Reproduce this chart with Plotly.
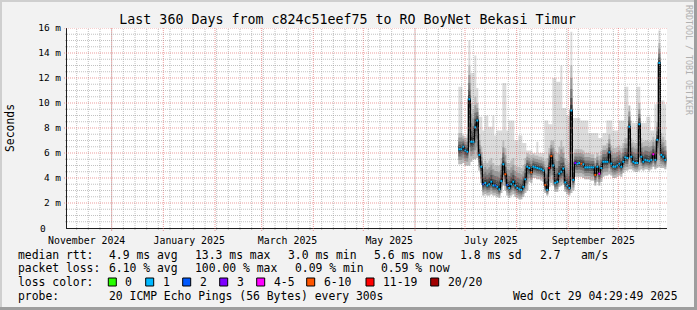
import plotly.graph_objects as go
import pandas as pd

MONO = "DejaVu Sans Mono"

TITLE = "Last 360 Days from c824c51eef75 to RO BoyNet Bekasi Timur"
X_START = "2024-11-04 04:48"
X_END = "2025-10-30 04:48"
MONTH_LABELS = ["November 2024", "January 2025", "March 2025", "May 2025", "July 2025", "September 2025"]
MONTH_LABEL_DATES = ["2024-11-16", "2025-01-16 12:00", "2025-03-16 12:00",
                     "2025-05-16 12:00", "2025-07-16 12:00", "2025-09-16"]
Y_TICKS = [2, 4, 6, 8, 10, 12, 14, 16]
Y_TICK_TEXT = ["2 m", "4 m", "6 m", "8 m", "10 m", "12 m", "14 m", "16 m"]
Y_ZERO_TEXT = "0"

SAMPLE_START = "2025-06-27 00:00"
SAMPLE_STEP_HOURS = 28.8

# median rtt (ms)
median = [
    6.3, 6.3, 6.5, 6.2, 6.1, 10.3, 6.9, 6.9, 8.05, 8.6,
    5.85, 4.9, 3.5, 3.6, 3.4, 3.5, 3.7, 3.4, 3.4, 3.3,
    3.1, 3.75, 5.1, 4.3, 3.45, 3.2, 3.5, 3.7, 3.4, 3.2,
    3.1, 3.05, 3.3, 3.9, 4.9, 4.8, 4.45, 4.9, 4.85, 4.8,
    4.75, 4.7, 4.6, 3.45, 3.05, 4.8, 5.75, 5.0, 3.6, 3.7,
    4.35, 4.5, 4.75, 3.65, 3.4, 3.2, 9.4, 3.85, 5.2, 5.15,
    5.2, 5.15, 5.1, 4.85, 4.85, 4.85, 4.85, 4.85, 4.25, 4.9,
    4.35, 4.8, 5.3, 5.3, 5.3, 6.05, 5.15, 4.9, 4.9, 5.0,
    5.15, 4.9, 5.3, 5.65, 5.6, 8.1, 5.7, 5.3, 5.2, 5.2,
    8.3, 5.7, 5.3, 5.45, 5.4, 5.35, 5.45, 5.9, 5.45, 7.05,
    13.2, 5.85, 5.7, 5.45,
]
# highest ping (ms)
ping_max = [
    11.3, 11.3, 7.3, 7.3, 7.5, 15.0, 12.4, 12.4, 13.8, 11.2,
    8.9, 8.9, 7.8, 9.0, 9.0, 8.1, 8.1, 9.0, 7.4, 7.8,
    7.8, 7.8, 11.6, 11.6, 7.8, 8.6, 8.6, 8.6, 7.0, 7.0,
    7.4, 7.4, 6.8, 6.8, 6.2, 6.2, 6.2, 6.0, 6.0, 6.9,
    6.0, 6.0, 6.0, 8.6, 8.6, 8.3, 8.3, 12.0, 12.0, 11.7,
    11.7, 13.0, 9.6, 9.6, 9.0, 9.0, 15.7, 8.8, 8.8, 8.8,
    8.8, 8.6, 8.6, 8.6, 8.6, 7.6, 7.6, 7.6, 7.6, 7.6,
    7.2, 7.2, 7.6, 7.6, 8.6, 8.6, 8.6, 7.8, 7.8, 7.8,
    8.6, 8.6, 8.6, 11.3, 11.3, 8.6, 8.6, 8.4, 8.4, 11.3,
    11.3, 8.4, 8.4, 8.4, 8.9, 8.9, 7.8, 7.8, 9.9, 9.9,
    15.8, 10.2, 10.2, 9.9,
]
# upper edge of the dense smoke (ms)
ping_upper = [
    7.6, 7.6, 7.4, 7.2, 7.2, 13.0, 10.0, 9.5, 10.5, 10.0,
    7.5, 6.5, 5.2, 5.4, 5.2, 5.4, 5.6, 5.2, 5.0, 5.0,
    5.0, 5.6, 7.0, 6.4, 5.2, 5.2, 5.4, 5.6, 5.0, 4.9,
    4.9, 4.8, 5.0, 5.6, 6.0, 5.9, 5.8, 5.9, 5.8, 5.8,
    5.7, 5.7, 5.6, 5.4, 5.6, 6.4, 7.0, 7.0, 6.2, 6.0,
    6.5, 7.0, 6.5, 5.6, 5.4, 5.2, 13.0, 6.0, 6.3, 6.3,
    6.3, 6.3, 6.2, 6.0, 6.0, 6.0, 5.9, 5.9, 5.6, 6.0,
    5.8, 6.2, 6.6, 6.6, 6.8, 7.5, 6.6, 6.4, 6.4, 6.5,
    6.6, 6.4, 6.8, 7.2, 7.2, 9.8, 7.2, 6.9, 6.8, 6.8,
    10.0, 7.2, 6.9, 7.0, 7.0, 6.9, 7.0, 7.3, 7.0, 8.5,
    14.8, 7.6, 7.3, 7.0,
]
# lowest ping (ms)
ping_min = [
    5.1, 5.1, 5.2, 5.0, 5.0, 5.0, 5.3, 5.5, 5.5, 5.6,
    4.6, 3.6, 2.6, 2.7, 2.6, 2.6, 2.7, 2.6, 2.6, 2.5,
    2.4, 2.8, 3.4, 3.0, 2.6, 2.4, 2.6, 2.7, 2.5, 2.4,
    2.3, 2.3, 2.5, 2.8, 3.0, 3.7, 3.6, 4.0, 4.0, 3.9,
    3.9, 3.8, 3.7, 2.8, 2.6, 3.3, 3.6, 3.4, 2.9, 2.9,
    3.3, 3.4, 3.5, 2.9, 2.7, 2.6, 2.8, 3.0, 4.1, 4.1,
    4.1, 4.1, 4.0, 3.9, 3.9, 3.9, 3.8, 3.8, 3.4, 3.7,
    3.4, 3.7, 4.1, 4.2, 4.2, 4.3, 4.2, 4.0, 4.0, 4.1,
    4.2, 4.1, 4.4, 4.6, 4.6, 4.7, 4.7, 4.6, 4.5, 4.5,
    4.6, 4.7, 4.6, 4.7, 4.7, 4.6, 4.7, 4.9, 4.7, 4.8,
    4.9, 4.8, 4.8, 4.7,
]
# lost pings out of 20
loss = [
    1, 1, 1, 1, 1, 1, 1, 1, 1, 1,
    1, 1, 2, 1, 1, 1, 1, 1, 2, 1,
    1, 1, 1, 6, 2, 1, 1, 1, 1, 1,
    1, 1, 1, 1, 1, 1, 6, 1, 1, 1,
    1, 1, 1, 6, 1, 11, 6, 1, 1, 1,
    1, 1, 1, 1, 1, 1, 1, 1, 3, 1,
    1, 6, 1, 1, 1, 1, 1, 1, 6, 1,
    4, 1, 1, 1, 1, 1, 1, 1, 1, 1,
    1, 1, 1, 1, 1, 1, 1, 1, 1, 1,
    1, 1, 1, 1, 1, 1, 1, 4, 1, 1,
    1, 1, 1, 1,
]

LOSS_LABELS = ["0", "1", "2", "3", "4-5", "6-10", "11-19", "20/20"]
LOSS_COLORS = ["#26ff00", "#00b8ff", "#0059ff", "#7e00ff", "#ff00ff", "#ff5500", "#ff0000", "#a10000"]


def loss_bucket(n):
    if n <= 3:
        return n
    if n <= 5:
        return 4
    if n <= 10:
        return 5
    if n <= 19:
        return 6
    return 7


step = pd.Timedelta(hours=SAMPLE_STEP_HOURS)
t = list(pd.date_range(SAMPLE_START, periods=len(median), freq=step))
t_ext = t + [t[-1] + step]


def ext(a):
    return list(a) + [a[-1]]


fig = go.Figure()


def band(lo, hi, color):
    fig.add_trace(go.Scatter(x=t_ext, y=ext(lo), mode="lines",
                             line=dict(width=0, shape="hv"), hoverinfo="skip", showlegend=False))
    fig.add_trace(go.Scatter(x=t_ext, y=ext(hi), mode="lines",
                             line=dict(width=0, shape="hv"), fill="tonexty", fillcolor=color,
                             hoverinfo="skip", showlegend=False))


# smoke: outermost light layer, then denser layers toward the median
band(ping_min, ping_max, "#dcdcdc")
for f, col in [(1.0, "#bcbcbc"), (0.72, "#9a9a9a"), (0.48, "#767676"), (0.28, "#525252"), (0.12, "#333333")]:
    lo = [m - (m - a) * f for m, a in zip(median, ping_min)]
    hi = [m + (b - m) * f for m, b in zip(median, ping_upper)]
    band(lo, hi, col)

# median line
fig.add_trace(go.Scatter(x=t_ext, y=ext(median), mode="lines",
                         line=dict(width=1.3, color="#000000", shape="hv"),
                         hoverinfo="skip", showlegend=False))

# colored median segments by loss
segs = {}
for i, (m, n) in enumerate(zip(median, loss)):
    b = loss_bucket(n)
    xs, ys = segs.setdefault(b, ([], []))
    xs += [t_ext[i], t_ext[i + 1], None]
    ys += [m, m, None]
for b, (xs, ys) in segs.items():
    fig.add_trace(go.Scatter(x=xs, y=ys, mode="lines",
                             line=dict(width=2, color=LOSS_COLORS[b]),
                             hoverinfo="skip", showlegend=False))

# axis arrows
fig.add_trace(go.Scatter(x=[pd.Timestamp(X_END) + pd.Timedelta(days=1.8)], y=[0], mode="markers",
                         marker=dict(symbol="triangle-right", size=7, color="#801f1f"),
                         cliponaxis=False, hoverinfo="skip", showlegend=False))
fig.add_trace(go.Scatter(x=[X_START], y=[16.4], mode="markers",
                         marker=dict(symbol="triangle-up", size=7, color="#801f1f"),
                         cliponaxis=False, hoverinfo="skip", showlegend=False))

L, T, W, H = 67, 28, 600, 200
FW, FH = 697, 310


def px2x(px):
    return (px - L) / W


def py2y(py):
    return (T + H - py) / H


GRID = "rgba(143,143,143,0.55)"
MGRID = "rgba(222,79,79,0.55)"
CLEAR = "rgba(0,0,0,0)"

fig.update_layout(
    width=FW, height=FH, autosize=False,
    margin=dict(l=L, r=FW - L - W, t=T, b=FH - T - H, pad=0),
    paper_bgcolor="#f2f2f2", plot_bgcolor="#ffffff",
    showlegend=False,
    font=dict(family=MONO, color="#000000"),
    title=dict(text=TITLE, x=347.5 / FW, xanchor="center", y=1 - 19 / FH, yanchor="middle",
               font=dict(family=MONO, size=13.3, color="#000000")),
    xaxis=dict(type="date", range=[X_START, X_END], showgrid=False,
               tickmode="array", tickvals=MONTH_LABEL_DATES, ticktext=MONTH_LABELS,
               ticks="outside", ticklen=3, tickcolor=CLEAR,
               tickfont=dict(family=MONO, size=9.9, color="#000000"),
               showline=True, linecolor="#1f1f1f", linewidth=1, zeroline=False),
    yaxis=dict(range=[0, 16], tickmode="array", tickvals=Y_TICKS, ticktext=Y_TICK_TEXT,
               showgrid=False, ticks="outside", ticklen=3, tickcolor=CLEAR,
               showline=True, linecolor="#1f1f1f", linewidth=1, zeroline=False,
               tickfont=dict(family=MONO, size=9.5, color="#000000")),
)

shapes = [
    # frame shading
    dict(type="rect", xref="paper", yref="paper", x0=px2x(0), x1=px2x(FW), y0=py2y(0), y1=py2y(2),
         fillcolor="#cfcfcf", line=dict(width=0), layer="below"),
    dict(type="rect", xref="paper", yref="paper", x0=px2x(0), x1=px2x(2), y0=py2y(0), y1=py2y(FH),
         fillcolor="#cfcfcf", line=dict(width=0), layer="below"),
    dict(type="rect", xref="paper", yref="paper", x0=px2x(0), x1=px2x(FW), y0=py2y(FH - 3), y1=py2y(FH),
         fillcolor="#9e9e9e", line=dict(width=0), layer="below"),
    dict(type="rect", xref="paper", yref="paper", x0=px2x(FW - 3), x1=px2x(FW), y0=py2y(0), y1=py2y(FH),
         fillcolor="#9e9e9e", line=dict(width=0), layer="below"),
]

# grid drawn over the smoke, like rrdtool
weeks = pd.date_range("2024-11-10", X_END, freq="7D")
months = pd.date_range("2024-12-01", X_END, freq="MS")
for d in weeks:
    shapes.append(dict(type="line", xref="x", yref="paper", x0=d, x1=d, y0=py2y(230), y1=1,
                       line=dict(color=GRID, width=1, dash="1px,1px"), layer="above"))
for d in months:
    shapes.append(dict(type="line", xref="x", yref="paper", x0=d, x1=d, y0=py2y(231), y1=1,
                       line=dict(color=MGRID, width=1, dash="1px,1px"), layer="above"))
for k in range(1, 33):
    v = k * 0.5
    major = (k % 4 == 0)
    shapes.append(dict(type="line", xref="paper", yref="y", x0=px2x(64 if major else 65), x1=1, y0=v, y1=v,
                       line=dict(color=MGRID if major else GRID, width=1, dash="1px,1px"), layer="above"))

annotations = []


def text(px, py, s, size=11.4, anchor="left", color="#000000", angle=0):
    annotations.append(dict(xref="paper", yref="paper", x=px2x(px), y=py2y(py), text=s,
                            showarrow=False, xanchor=anchor, yanchor="middle", textangle=angle,
                            font=dict(family=MONO, size=size, color=color)))


text(47.5, 229, Y_ZERO_TEXT, size=9.5, anchor="right")
text(10, 128, "Seconds", size=11.4, anchor="center", angle=-90)
text(689, 60, "RRDTOOL / TOBI OETIKER", size=8.3, anchor="center", color="#b0b0b0", angle=90)

row1 = [(16, "median rtt:"), (106.7, "4.9 ms avg"), (193.3, "13.3 ms max"), (286, "3.0 ms min"),
        (372.3, "5.6 ms now"), (458.3, "1.8 ms sd"), (538.3, "2.7"), (579.3, "am/s")]
row2 = [(16, "packet loss:"), (106.7, "6.10 % avg"), (193.3, "100.00 % max"), (292.7, "0.09 % min"),
        (379.3, "0.59 % now")]
for px, s in row1:
    text(px, 254.5, s)
for px, s in row2:
    text(px, 268, s)
text(16, 282, "loss color:")
box_x = [108.3, 145.7, 182.7, 219.7, 256.7, 306.7, 366, 430.7]
for bx, lab, col in zip(box_x, LOSS_LABELS, LOSS_COLORS):
    shapes.append(dict(type="rect", xref="paper", yref="paper", x0=px2x(bx), x1=px2x(bx + 8),
                       y0=py2y(286), y1=py2y(278), fillcolor=col, line=dict(width=1, color="#000000")))
    text(bx + 15, 282, lab)
text(16, 296, "probe:")
text(106.7, 296, "20 ICMP Echo Pings (56 Bytes) every 300s")
text(680, 296, "Wed Oct 29 04:29:49 2025", anchor="right")

fig.update_layout(shapes=shapes, annotations=annotations)
fig.write_html("out.html")
